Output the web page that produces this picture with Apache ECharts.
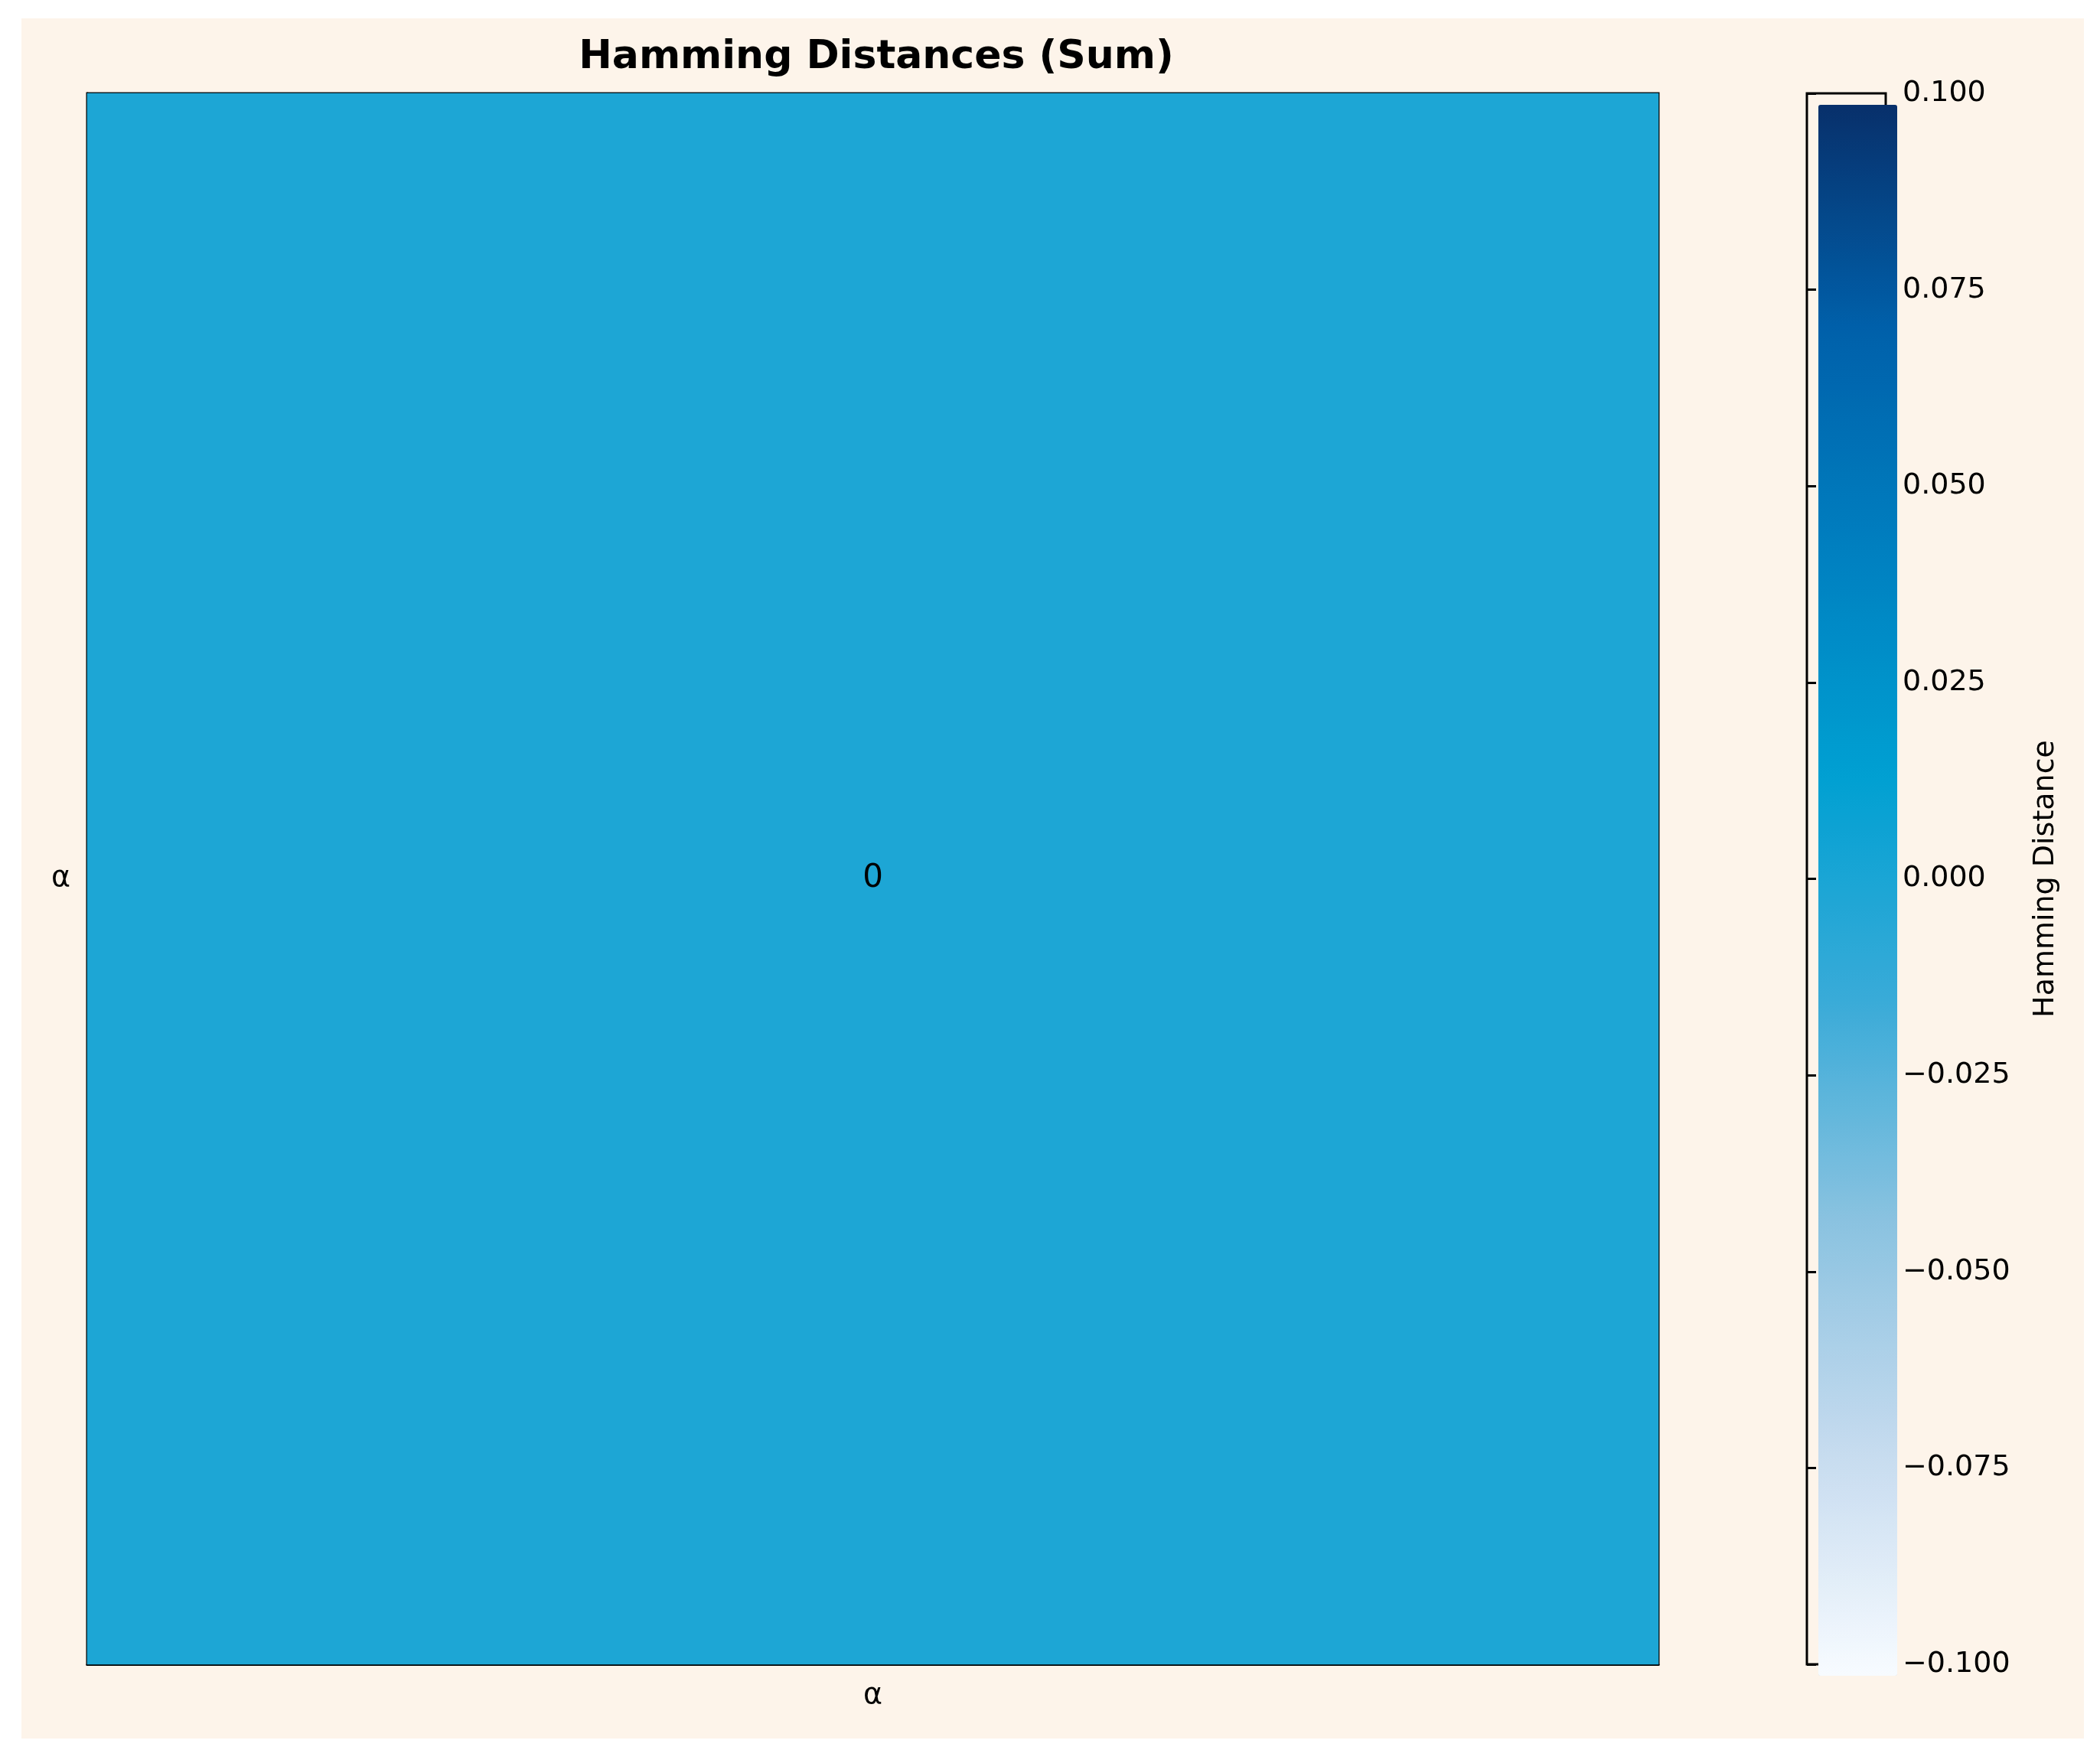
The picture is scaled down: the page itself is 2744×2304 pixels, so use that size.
<!DOCTYPE html>
<html>
<head>
<meta charset="utf-8">
<script src="https://cdn.jsdelivr.net/npm/echarts@6/dist/echarts.min.js"></script>
<style>
html,body{margin:0;padding:0;background:#fff;}
#wrap{position:absolute;left:28px;top:24px;width:2695px;height:2248px;background:#fdf4ea;}
#chart{position:absolute;left:0;top:0;width:2744px;height:2304px;}
</style>
</head>
<body>
<div id="wrap"></div>
<div id="chart"></div>
<script>
// 数据
const labels = ['α'];
const cells = [[0, 0, 0]];
const barMin = -0.1;
const barMax = 0.1;
const barStep = 0.025;

const chart = echarts.init(document.getElementById('chart'));

function fmt(v) {
    const s = Math.abs(v).toFixed(3);
    return v < -1e-9 ? '\u2212' + s : s;
}

chart.setOption({
    backgroundColor: 'transparent',
    textStyle: { fontFamily: 'DejaVu Sans' },
    title: {
        text: 'Hamming Distances (Sum)',
        left: 1140, top: 44, textAlign: 'center',
        textStyle: { fontSize: 52, fontWeight: 'bold', color: '#000', fontFamily: 'DejaVu Sans' }
    },
    grid: [
        { left: 114, top: 122, width: 2053, height: 2053, show: true, borderColor: '#000', borderWidth: 3, backgroundColor: 'transparent' },
        { left: 2361, top: 122, width: 103, height: 2053, show: true, borderColor: '#000', borderWidth: 3, backgroundColor: 'transparent' }
    ],
    xAxis: [
        {
            gridIndex: 0, type: 'category', data: labels,
            axisLine: { lineStyle: { color: '#000', width: 3 } },
            axisTick: { alignWithLabel: true, length: 12, lineStyle: { width: 3, color: '#000' } },
            axisLabel: { fontSize: 38, color: '#000', margin: 22 },
            splitArea: { show: false }
        },
        { gridIndex: 1, type: 'value', show: false }
    ],
    yAxis: [
        {
            gridIndex: 0, type: 'category', data: labels,
            axisLine: { lineStyle: { color: '#000', width: 3 } },
            axisTick: { alignWithLabel: true, length: 12, lineStyle: { width: 3, color: '#000' } },
            axisLabel: { fontSize: 38, color: '#000', margin: 22 }
        },
        {
            gridIndex: 1, type: 'value', position: 'right',
            min: barMin, max: barMax, interval: barStep,
            name: 'Hamming Distance', nameLocation: 'middle', nameGap: 190, nameRotate: 90,
            nameTextStyle: { fontSize: 38, color: '#000' },
            axisLine: { show: false },
            axisTick: { show: true, length: 12, lineStyle: { width: 3, color: '#000' } },
            splitLine: { show: false },
            axisLabel: { fontSize: 38, color: '#000', margin: 22, formatter: fmt }
        }
    ],
    visualMap: {
        type: 'continuous', seriesIndex: 0,
        min: barMin, max: barMax,
        left: 2361, top: 122,
        itemWidth: 103, itemHeight: 2053,
        text: null, showLabel: false, calculable: false,
        inRange: { color: ['#f7fbff', '#c6dbef', '#8cc3e0', '#3aabd8', '#00a0d2', '#0080c0', '#0060aa', '#08306b'] }
    },
    series: [{
        type: 'heatmap', xAxisIndex: 0, yAxisIndex: 0,
        data: cells,
        label: { show: true, fontSize: 42, color: '#000' },
        itemStyle: { borderWidth: 0 }
    }]
});
</script>
</body>
</html>
